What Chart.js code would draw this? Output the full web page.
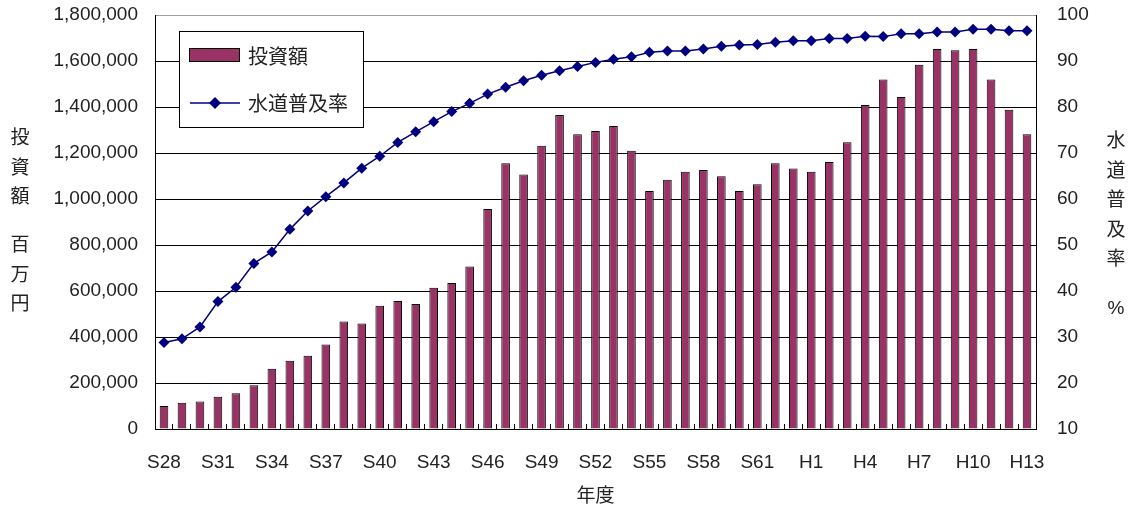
<!DOCTYPE html>
<html>
<head>
<meta charset="utf-8">
<script src="https://cdn.jsdelivr.net/npm/chart.js@4.4.1/dist/chart.umd.min.js"></script>
<style>
  html, body { margin: 0; padding: 0; background: #fff; }
  #wrap { width: 1137px; height: 506px; }
</style>
</head>
<body>
<div id="wrap"><canvas id="c" width="1137" height="506"></canvas></div>
<script>
// 年度 (昭和28年度〜平成13年度)
const years = [
  'S28','S29','S30','S31','S32','S33','S34','S35','S36','S37','S38','S39',
  'S40','S41','S42','S43','S44','S45','S46','S47','S48','S49','S50','S51',
  'S52','S53','S54','S55','S56','S57','S58','S59','S60','S61','S62','S63',
  'H1','H2','H3','H4','H5','H6','H7','H8','H9','H10','H11','H12','H13'
];

// 投資額 (百万円)
const investment = [
  100000, 114000, 120000, 140000, 155000, 190000, 262000, 297000, 319000, 367000, 467000, 459000,
  536000, 557000, 543000, 614000, 635000, 706000, 957000, 1155000, 1106000, 1232000, 1365000, 1281000,
  1296000, 1317000, 1210000, 1035000, 1084000, 1119000, 1126000, 1099000, 1035000, 1064000, 1155000, 1133000,
  1119000, 1161000, 1247000, 1409000, 1520000, 1444000, 1584000, 1652000, 1647000, 1652000, 1520000, 1388000, 1281000
];

// 水道普及率 (%)
const coverage = [
  28.8, 29.6, 32.2, 37.7, 40.8, 46.0, 48.5, 53.4, 57.4, 60.5, 63.5, 66.7,
  69.3, 72.3, 74.6, 76.8, 79.0, 80.8, 82.8, 84.3, 85.7, 86.9, 87.9, 88.8,
  89.7, 90.4, 90.9, 91.9, 92.2, 92.2, 92.6, 93.2, 93.5, 93.6, 94.1, 94.4,
  94.4, 94.9, 94.9, 95.4, 95.3, 95.9, 95.9, 96.3, 96.3, 96.9, 96.9, 96.6, 96.6
];

// 横軸に表示する年度
const yearTickLabels = ['S28','S31','S34','S37','S40','S43','S46','S49','S52','S55','S58','S61','H1','H4','H7','H10','H13'];

const LATIN = '"Liberation Sans", Arial, sans-serif';
const CJK = '"Noto Sans CJK JP", "Noto Sans CJK SC", sans-serif';
const TEXT = '#222';
const BAR_FILL = '#993366';
const LINE_COLOR = '#000080';
const NONE = 'rgba(0,0,0,0)';

// 縦書きの軸タイトルと、グラフ内の凡例
const decorations = {
  id: 'decorations',
  afterDraw(chart) {
    const ctx = chart.ctx;
    const area = chart.chartArea;
    ctx.save();
    ctx.fillStyle = TEXT;
    ctx.textAlign = 'center';
    ctx.textBaseline = 'middle';
    ctx.font = '19px ' + CJK;
    // 左軸タイトル
    const leftCol = [['投', 137], ['資', 167], ['額', 196], ['百', 244], ['万', 274], ['円', 303]];
    leftCol.forEach(([ch, y]) => ctx.fillText(ch, 20, y));
    // 右軸タイトル
    const rightCol = [['水', 140], ['道', 170], ['普', 199], ['及', 229], ['率', 258]];
    rightCol.forEach(([ch, y]) => ctx.fillText(ch, 1116, y));
    ctx.font = '19px ' + LATIN;
    ctx.fillText('%', 1116, 309);

    // 凡例
    const lx = area.left + 24, ly = area.top + 16, lw = 184, lh = 96;
    ctx.fillStyle = '#fff';
    ctx.fillRect(lx, ly, lw, lh);
    ctx.strokeStyle = '#000';
    ctx.lineWidth = 1;
    ctx.strokeRect(lx + 0.5, ly + 0.5, lw, lh);

    const barDs = chart.data.datasets[0];
    const lineDs = chart.data.datasets[1];
    // 棒の見本
    ctx.fillStyle = barDs.backgroundColor;
    ctx.fillRect(lx + 10, ly + 17, 51, 14);
    ctx.strokeStyle = '#000';
    ctx.strokeRect(lx + 10.5, ly + 17.5, 50, 13);
    // 折れ線の見本
    const my = ly + 72;
    ctx.strokeStyle = lineDs.borderColor;
    ctx.lineWidth = 1.5;
    ctx.beginPath();
    ctx.moveTo(lx + 11, my);
    ctx.lineTo(lx + 61, my);
    ctx.stroke();
    ctx.fillStyle = lineDs.pointBackgroundColor;
    ctx.beginPath();
    const r = 6, cx = lx + 36;
    ctx.moveTo(cx, my - r);
    ctx.lineTo(cx + r, my);
    ctx.lineTo(cx, my + r);
    ctx.lineTo(cx - r, my);
    ctx.closePath();
    ctx.fill();

    ctx.fillStyle = TEXT;
    ctx.textAlign = 'left';
    ctx.font = '20px ' + CJK;
    ctx.fillText(barDs.label, lx + 69, ly + 25);
    ctx.fillText(lineDs.label, lx + 69, my);
    ctx.restore();
  }
};

new Chart(document.getElementById('c'), {
  type: 'bar',
  data: {
    labels: years,
    datasets: [
      {
        type: 'bar',
        label: '投資額',
        data: investment,
        yAxisID: 'y',
        backgroundColor: BAR_FILL,
        borderColor: '#000',
        borderWidth: 1,
        categoryPercentage: 1,
        barPercentage: 0.48,
        order: 2
      },
      {
        type: 'line',
        label: '水道普及率',
        data: coverage,
        yAxisID: 'y1',
        borderColor: LINE_COLOR,
        borderWidth: 1.5,
        pointStyle: 'rectRot',
        pointRadius: 5.5,
        pointBackgroundColor: LINE_COLOR,
        pointBorderColor: LINE_COLOR,
        pointBorderWidth: 0,
        tension: 0,
        order: 1
      }
    ]
  },
  options: {
    responsive: false,
    animation: false,
    layout: { padding: { top: 15, left: 0, right: 0, bottom: 0 } },
    plugins: {
      legend: { display: false },
      tooltip: { enabled: false }
    },
    scales: {
      x: {
        offset: true,
        grid: {
          offset: true,
          drawOnChartArea: false,
          drawTicks: true,
          tickLength: -5,
          color: '#000'
        },
        border: { display: true, color: '#000', width: 1 },
        ticks: {
          autoSkip: false,
          maxRotation: 0,
          minRotation: 0,
          padding: 27,
          color: TEXT,
          font: { family: LATIN, size: 19 },
          callback: function (value, index) {
            const label = years[index];
            return yearTickLabels.includes(label) ? label : '';
          }
        },
        title: {
          display: true,
          text: '年度',
          color: TEXT,
          font: { family: CJK, size: 19 },
          padding: { top: 2, bottom: 0 }
        },
        afterFit: s => { s.height = 77; }
      },
      y: {
        position: 'left',
        min: 0,
        max: 1800000,
        grid: {
          drawTicks: true,
          tickLength: 17,
          tickColor: NONE,
          lineWidth: 1,
          color: ctx => (ctx.tick && ctx.tick.value === 1800000) ? '#a0a0a0' : '#000'
        },
        border: { display: true, color: '#000', width: 1 },
        ticks: {
          stepSize: 200000,
          padding: 0,
          color: TEXT,
          font: { family: LATIN, size: 19 },
          callback: v => v.toLocaleString('en-US')
        },
        afterFit: s => { s.width = 155; }
      },
      y1: {
        position: 'right',
        min: 10,
        max: 100,
        grid: { drawOnChartArea: false, drawTicks: true, tickLength: 21, tickColor: NONE },
        border: { display: true, color: '#000', width: 1 },
        ticks: {
          stepSize: 10,
          padding: 0,
          color: TEXT,
          font: { family: LATIN, size: 19 }
        },
        afterFit: s => { s.width = 101; }
      }
    }
  },
  plugins: [decorations]
});
</script>
</body>
</html>
